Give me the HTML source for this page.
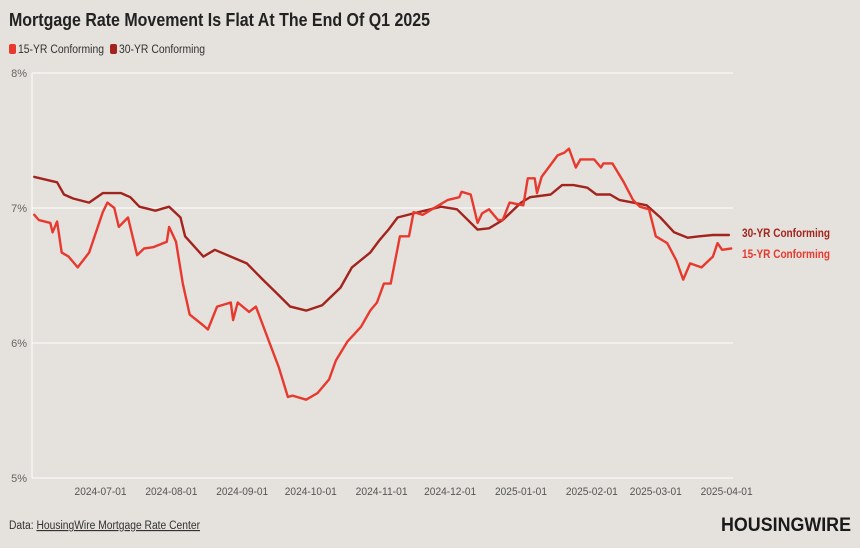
<!DOCTYPE html>
<html><head><meta charset="utf-8">
<style>
body{margin:0;background:#e5e1dc;font-family:"Liberation Sans",sans-serif;}
#wrap{position:relative;width:860px;height:548px;overflow:hidden;background:#e5e1dc;}
</style></head>
<body>
<div id="wrap">
<svg id="chart" width="860" height="548"></svg>
</div>
<script>
const startDate = "2024-06-01";
const yTicks = [5, 6, 7, 8];
const xTickLabels = ["2024-07-01","2024-08-01","2024-09-01","2024-10-01","2024-11-01","2024-12-01","2025-01-01","2025-02-01","2025-03-01","2025-04-01"];
const days30 = [1,11,14,18,25,31,39,43,47,54,60,65,67,75,80,87,94,101,107,113,120,127,135,140,148,152,156,160,167,179,186,195,200,206,214,218,227,232,237,243,247,253,257,263,269,275,281,287,292,298,305];
const rates30 = [7.23,7.19,7.10,7.07,7.04,7.11,7.11,7.08,7.01,6.98,7.01,6.93,6.79,6.64,6.69,6.64,6.59,6.47,6.37,6.27,6.24,6.28,6.41,6.56,6.67,6.76,6.84,6.93,6.96,7.01,6.99,6.84,6.85,6.91,7.04,7.08,7.10,7.17,7.17,7.15,7.10,7.10,7.06,7.04,7.02,6.93,6.82,6.78,6.79,6.80,6.80];
const days15 = [1,3,8,9,11,13,16,20,25,31,33,36,38,42,46,49,53,59,60,63,66,69,75,77,81,87,88,90,95,98,104,108,112,114,120,125,130,133,138,144,148,151,154,157,161,165,167,171,175,182,187,188,192,195,197,200,204,206,209,215,217,220,221,223,230,233,235,238,240,246,249,250,254,259,263,266,270,273,278,282,285,288,293,298,300,302,306];
const rates15 = [6.95,6.91,6.89,6.82,6.90,6.67,6.64,6.56,6.67,6.97,7.04,7.00,6.86,6.93,6.65,6.70,6.71,6.75,6.86,6.75,6.44,6.21,6.13,6.10,6.27,6.30,6.17,6.30,6.23,6.27,6.00,5.82,5.60,5.61,5.58,5.63,5.73,5.87,6.01,6.12,6.24,6.30,6.44,6.44,6.79,6.79,6.97,6.95,6.99,7.06,7.08,7.12,7.10,6.89,6.96,6.99,6.91,6.91,7.04,7.02,7.22,7.22,7.11,7.23,7.39,7.41,7.44,7.30,7.36,7.36,7.30,7.33,7.33,7.19,7.06,7.01,6.99,6.79,6.74,6.61,6.47,6.59,6.56,6.64,6.74,6.69,6.70];

const NS = "http://www.w3.org/2000/svg";
const svg = document.getElementById("chart");
const X0 = 32, X1 = 733, PX_PER_DAY = 2.285;
const Y_TOP = 73, Y_BOT = 478;
function dayOf(s){return Math.round((Date.parse(s)-Date.parse(startDate))/86400000);}
function xScale(d){return X0 + d*PX_PER_DAY;}
function yScale(v){return Y_BOT - (v-5)/(8-5)*(Y_BOT-Y_TOP);}
function mk(tag, attrs){const e=document.createElementNS(NS,tag);for(const k in attrs)e.setAttribute(k,attrs[k]);svg.appendChild(e);return e;}

let t = mk("text",{x:9,y:26,"font-size":"18","font-weight":"bold",fill:"#222",textLength:421,lengthAdjust:"spacingAndGlyphs"});
t.textContent="Mortgage Rate Movement Is Flat At The End Of Q1 2025";



const legend = [["15-YR Conforming","#e8392f",9],["30-YR Conforming","#a3241e",110]];
legend.forEach(l=>{
  const r = mk("rect",{x:l[2],y:44,width:7,height:10,rx:2,fill:l[1]});
  
  
  const tx = mk("text",{x:l[2]+9,y:53,"font-size":"11.5",fill:"#333",textLength:86,lengthAdjust:"spacingAndGlyphs"});
  tx.textContent=l[0];
  
  
});

yTicks.forEach(v=>{
  const y=yScale(v);
  const g=mk("line",{x1:X0,x2:X1,y1:y,y2:y,stroke:"#ffffff","stroke-width":1});
  
  
  const tx=mk("text",{x:27,y:y+4,"font-size":"11","text-anchor":"end",fill:"#666"});
  tx.textContent=v+"%";
  
  
});
const yAx=mk("line",{x1:X0,x2:X0,y1:Y_TOP,y2:Y_BOT,stroke:"#ffffff","stroke-width":1});



xTickLabels.forEach(s=>{
  const tx=mk("text",{x:xScale(dayOf(s)),y:495,"font-size":"11","text-anchor":"middle",fill:"#555",textLength:52,lengthAdjust:"spacingAndGlyphs"});
  tx.textContent=s;
  
  
});

function line(days, vals, color, name){
  const d = days.map((dd,i)=>(i?"L":"M")+xScale(dd).toFixed(1)+","+yScale(vals[i]).toFixed(1)).join("");
  const p=mk("path",{d:d,fill:"none",stroke:color,"stroke-width":2.4,"stroke-linejoin":"round","stroke-linecap":"round"});
  
  
  return p;
}
line(days30, rates30, "#a3241e", "line-30yr");
line(days15, rates15, "#e8392f", "line-15yr");

const l30=mk("text",{x:742,y:237,"font-size":"11.5","font-weight":"bold",fill:"#a3241e",textLength:88,lengthAdjust:"spacingAndGlyphs"});
l30.textContent="30-YR Conforming";


const l15=mk("text",{x:742,y:258,"font-size":"11.5","font-weight":"bold",fill:"#e8392f",textLength:88,lengthAdjust:"spacingAndGlyphs"});
l15.textContent="15-YR Conforming";



const src=mk("text",{x:9,y:529,"font-size":"11.5",fill:"#333",textLength:191,lengthAdjust:"spacingAndGlyphs"});
src.innerHTML='Data: <tspan text-decoration="underline">HousingWire Mortgage Rate Center</tspan>';


const logo=mk("text",{x:851,y:531,"font-size":"19","font-weight":"bold","text-anchor":"end",fill:"#1a1a1a",textLength:130,lengthAdjust:"spacingAndGlyphs"});
logo.textContent="HOUSINGWIRE";


</script>
</body></html>
